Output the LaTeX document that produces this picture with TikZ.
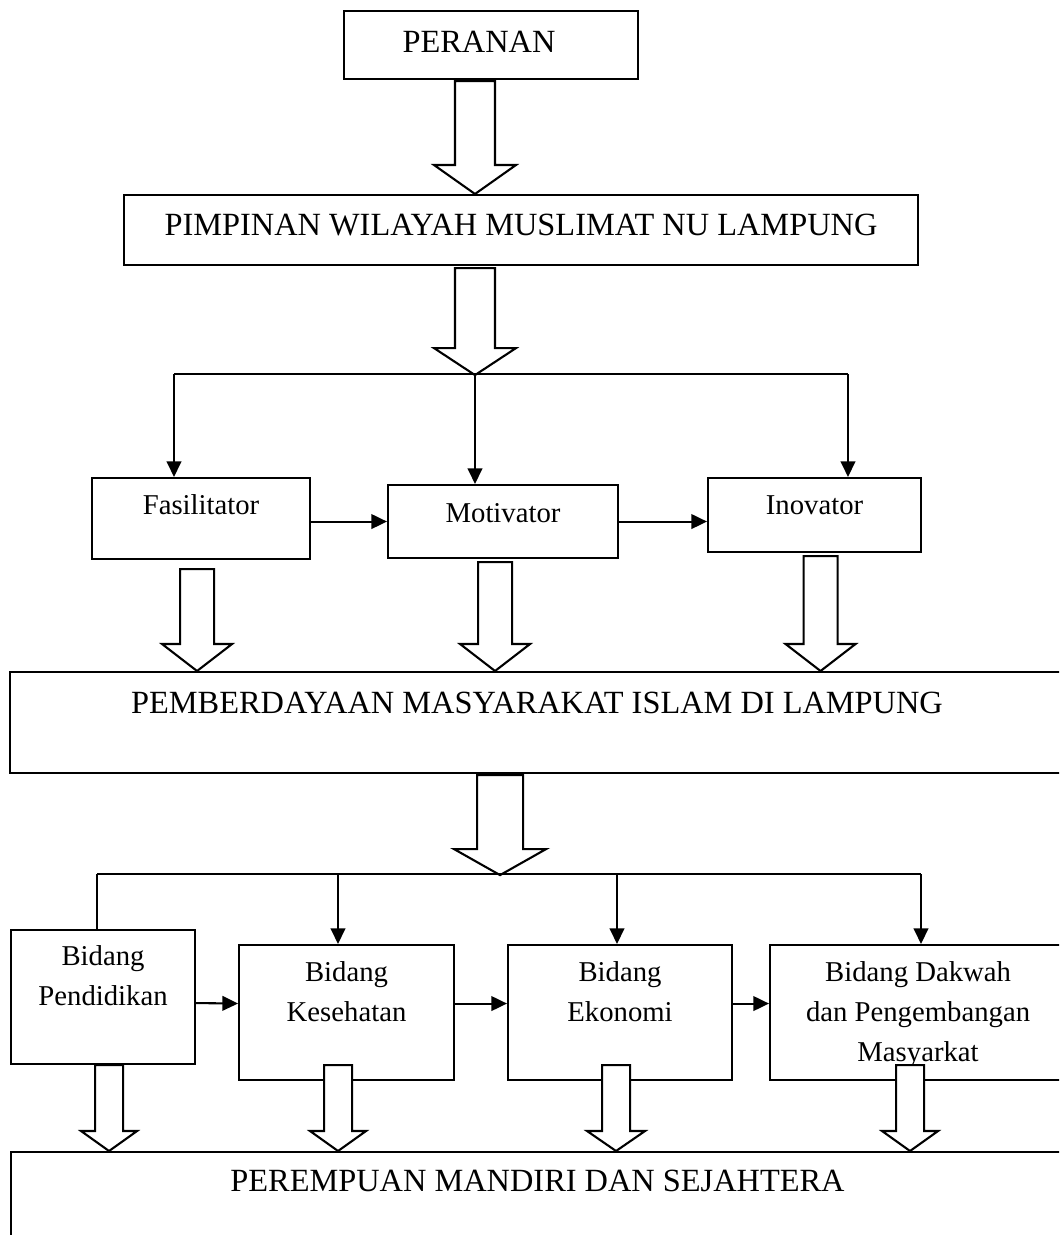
\documentclass[tikz,border=0pt]{standalone}
\usepackage{fontspec}
\setmainfont{Liberation Serif}
\usepackage{tikz}
\usetikzlibrary{arrows.meta, calc}

\newlength\px
\setlength\px{0.383pt}
% box text sits near the top of its box
\newcommand{\inbox}[4]{\parbox[c][#2\px][t]{#1\px}{\centering\vspace*{#3\px}#4}}
% hollow block arrow: shaft half width, head half width, head length, top, tip
\newcommand{\hollowarrow}[5]{%
  \draw[hollow] ($(#4)+(-#1,0)$) -- ($(#5)+(-#1,-#3)$) -- ($(#5)+(-#2,-#3)$) -- (#5)
    -- ($(#5)+(#2,-#3)$) -- ($(#5)+(#1,-#3)$) -- ($(#4)+(#1,0)$) -- cycle;}

\begin{document}
\begin{tikzpicture}[
    x=\px, y=-\px,
    box/.style={draw, line width=0.8pt, inner sep=0pt, anchor=north west, font=\fontsize{12.4}{14.8}\selectfont},
    smallbox/.style={box, font=\fontsize{11}{15.3}\selectfont},
    conn/.style={line width=0.8pt},
    arrow/.style={conn, -{Triangle[length=6pt, width=5.6pt]}},
    hollow/.style={draw, fill=white, line width=0.8pt, line join=miter}
]
\useasboundingbox (0,0) rectangle (1059,1235);
\clip (0,0) rectangle (1059,1235);

% Top boxes
\node[box] (peranan) at (343,10) {\inbox{294}{68}{20}{PERANAN\hspace*{24\px}}};
\node[box] (pimpinan) at (123,194) {\inbox{794}{70}{19}{PIMPINAN WILAYAH MUSLIMAT NU LAMPUNG}};

% Roles
\node[smallbox] (fas) at (91,477) {\inbox{218}{81}{17}{Fasilitator}};
\node[smallbox] (mot) at (387,484) {\inbox{230}{73}{18}{Motivator}};
\node[smallbox] (ino) at (707,477) {\inbox{213}{74}{18}{Inovator}};

% Empowerment
\node[box] (pem) at (9,671) {\inbox{1054}{101}{20}{PEMBERDAYAAN MASYARAKAT ISLAM DI LAMPUNG}};

% Fields
\node[smallbox] (pend) at (10,929) {\inbox{184}{134}{16}{Bidang\\Pendidikan}};
\node[smallbox] (kes) at (238,944) {\inbox{215}{135}{17}{Bidang\\Kesehatan}};
\node[smallbox] (eko) at (507,944) {\inbox{224}{135}{17}{Bidang\\Ekonomi}};
\node[smallbox] (dak) at (769,944) {\inbox{296}{135}{17}{Bidang Dakwah\\dan Pengembangan\\Masyarkat}};

% Result
\node[box] (pe) at (10,1151) {\inbox{1053}{100}{18}{PEREMPUAN MANDIRI DAN SEJAHTERA}};

% Block arrows, top part
\coordinate (a1t) at ($(peranan.south west)+(132,1)$);
\coordinate (a1h) at (a1t |- pimpinan.north);
\hollowarrow{20}{41}{29}{a1t}{a1h}
\coordinate (a2t) at ($(pimpinan.south west)+(352,2)$);
\coordinate (a2h) at ($(a2t)+(0,107)$);
\hollowarrow{20}{41}{27}{a2t}{a2h}

% Branch to the roles
\coordinate (b1l) at ($(fas.north west)+(83,-103)$);
\coordinate (b1r) at ($(ino.north west)+(141,-103)$);
\draw[conn] (b1l) -- (b1r);
\draw[arrow] (b1l) -- (b1l |- fas.north);
\draw[arrow] (a2h) -- (a2h |- mot.north);
\draw[arrow] (b1r) -- (b1r |- ino.north);
\draw[arrow] (fas.east |- mot.west) -- (mot.west);
\draw[arrow] (mot.east) -- (mot.east -| ino.west);

% Roles into empowerment
\coordinate (f1) at ($(fas.south)+(-4,9)$);
\coordinate (m1) at ($(mot.south)+(-8,3)$);
\coordinate (i1) at ($(ino.south)+(6,3)$);
\hollowarrow{17}{35}{27}{f1}{f1 |- pem.north}
\hollowarrow{17}{35}{27}{m1}{m1 |- pem.north}
\hollowarrow{17}{35}{27}{i1}{i1 |- pem.north}

% Empowerment to the fields
\coordinate (a3t) at ($(pem.south)+(-37,1)$);
\coordinate (a3h) at ($(a3t)+(0,100)$);
\hollowarrow{23}{46}{26}{a3t}{a3h}
\coordinate (b2l) at ($(pend.north west)+(87,-55)$);
\coordinate (b2r) at ($(dak.north west)+(152,-70)$);
\coordinate (kx) at ($(kes.north west)+(100,0)$);
\coordinate (ex) at ($(eko.north west)+(110,0)$);
\draw[conn] (b2l) -- (b2r);
\draw[conn] (b2l) -- (b2l |- pend.north);
\draw[arrow] (kx |- b2l) -- (kx);
\draw[arrow] (ex |- b2l) -- (ex);
\draw[arrow] (b2r) -- (b2r |- dak.north);
\draw[arrow] ($(pend.east)+(0,6)$) -- ($(kes.west)+(0,-9)$);
\draw[arrow] ($(kes.east)+(0,-9)$) -- ($(eko.west)+(0,-9)$);
\draw[arrow] ($(eko.east)+(0,-9)$) -- ($(dak.west)+(0,-9)$);

% Fields into the result
\coordinate (p1) at ($(pend.south)+(6,0)$);
\coordinate (k1) at ($(kes.south)+(-8.5,-16)$);
\coordinate (e1) at ($(eko.south)+(-4,-16)$);
\coordinate (d1) at ($(dak.south)+(-8,-16)$);
\hollowarrow{14}{28}{20}{p1}{p1 |- pe.north}
\hollowarrow{14}{28}{20}{k1}{k1 |- pe.north}
\hollowarrow{14}{29}{20}{e1}{e1 |- pe.north}
\hollowarrow{14}{28}{20}{d1}{d1 |- pe.north}

\end{tikzpicture}
\end{document}
